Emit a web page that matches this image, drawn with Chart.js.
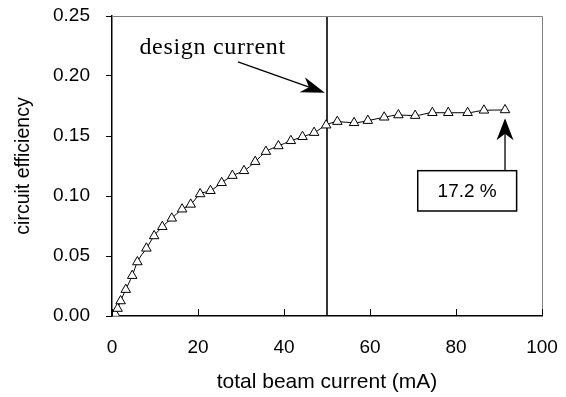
<!DOCTYPE html>
<html>
<head>
<meta charset="utf-8">
<script src="https://cdn.jsdelivr.net/npm/chart.js@4/dist/chart.umd.min.js"></script>
<style>
  html, body { margin: 0; padding: 0; background: #fff; }
  #wrap { width: 566px; height: 397px; }
</style>
</head>
<body>
<div id="wrap"><canvas id="chart" width="566" height="397"></canvas></div>
<script>
// Data
const beamCurrent = [0, 0.7, 1.3, 2.0, 3.2, 4.7, 5.9, 8.0, 9.8, 11.7, 13.9, 16.3, 18.3, 20.5, 22.9,
  25.5, 28.0, 30.7, 33.3, 35.8, 38.7, 41.6, 44.3, 47.0, 49.8, 52.4, 56.3, 59.5, 63.3, 66.6,
  70.5, 74.5, 78.2, 82.7, 86.5, 91.4];
const efficiency = [0, 0.002, 0.0062, 0.0125, 0.022, 0.0336, 0.045, 0.0564, 0.0667, 0.0744, 0.0814,
  0.089, 0.093, 0.1017, 0.1044, 0.111, 0.117, 0.121, 0.1286, 0.137, 0.1417, 0.146, 0.1494,
  0.1528, 0.159, 0.162, 0.161, 0.1628, 0.1656, 0.1675, 0.167, 0.1694, 0.1694, 0.1694, 0.1714, 0.1717];
const xTicks = [0, 20, 40, 60, 80, 100];
const yTicks = [0, 0.05, 0.10, 0.15, 0.20, 0.25];
const designCurrent = 50;
const designLabel = "design current";
const peakLabel = "17.2 %";

const SANS = "'Liberation Sans', Arial, sans-serif";
const SERIF = "'Liberation Serif', 'Times New Roman', serif";

function arrowHead(ctx, tx, ty, fx, fy, len, half) {
  // filled, notched arrow head pointing from (fx,fy) to (tx,ty)
  const dx = tx - fx, dy = ty - fy;
  const d = Math.hypot(dx, dy);
  const ux = dx / d, uy = dy / d;
  const nx = -uy, ny = ux;
  const bx = tx - ux * len, by = ty - uy * len;
  const mx = tx - ux * len * 0.7, my = ty - uy * len * 0.7;
  ctx.beginPath();
  ctx.moveTo(tx, ty);
  ctx.lineTo(bx + nx * half, by + ny * half);
  ctx.lineTo(mx, my);
  ctx.lineTo(bx - nx * half, by - ny * half);
  ctx.closePath();
  ctx.fill();
}

// frame, inner x ticks and annotations
const extras = {
  id: "extras",
  afterDraw(chart) {
    const { ctx, chartArea: a, scales: { x, y } } = chart;
    ctx.save();
    // top/right grey frame
    ctx.strokeStyle = "#808080";
    ctx.lineWidth = 1;
    ctx.beginPath();
    ctx.moveTo(a.left, a.top + 0.5);
    ctx.lineTo(a.right + 0.5, a.top + 0.5);
    ctx.lineTo(a.right + 0.5, a.bottom);
    ctx.stroke();

    // x ticks pointing up into the plot
    ctx.strokeStyle = "#000";
    ctx.lineWidth = 1;
    for (const v of xTicks) {
      const px = Math.round(x.getPixelForValue(v)) + 0.5;
      ctx.beginPath();
      ctx.moveTo(px, a.bottom);
      ctx.lineTo(px, a.bottom - 7);
      ctx.stroke();
    }

    // "design current" label + arrow
    ctx.fillStyle = "#000";
    ctx.font = "24px " + SERIF;
    ctx.letterSpacing = "0.7px";
    ctx.textAlign = "center";
    ctx.textBaseline = "middle";
    ctx.fillText(designLabel, x.getPixelForValue(23.4), y.getPixelForValue(0.2235));
    ctx.letterSpacing = "0px";
    const ax0 = x.getPixelForValue(29.3), ay0 = y.getPixelForValue(0.2117);
    const ax1 = x.getPixelForValue(49.5), ay1 = y.getPixelForValue(0.186);
    ctx.lineWidth = 1.3;
    ctx.beginPath();
    ctx.moveTo(ax0, ay0);
    ctx.lineTo(ax1 - (ax1 - ax0) * 0.1, ay1 - (ay1 - ay0) * 0.1);
    ctx.stroke();
    arrowHead(ctx, ax1, ay1, ax0, ay0, 24, 8);

    // 17.2 % box + arrow
    const bx0 = x.getPixelForValue(71.1), bx1 = x.getPixelForValue(94.1);
    const by0 = y.getPixelForValue(0.1211), by1 = y.getPixelForValue(0.0875);
    ctx.lineWidth = 1.5;
    ctx.strokeRect(bx0, by0, bx1 - bx0, by1 - by0);
    ctx.font = "19px " + SANS;
    ctx.fillText(peakLabel, (bx0 + bx1) / 2, (by0 + by1) / 2 + 1);
    const vx = x.getPixelForValue(91.4);
    const vt = y.getPixelForValue(0.1648);
    ctx.lineWidth = 1.3;
    ctx.beginPath();
    ctx.moveTo(vx, by0);
    ctx.lineTo(vx, vt + 15);
    ctx.stroke();
    arrowHead(ctx, vx, vt, vx, by0, 22, 8.5);
    ctx.restore();
  }
};

new Chart(document.getElementById("chart"), {
  type: "scatter",
  data: {
    datasets: [
      {
        label: "efficiency",
        data: beamCurrent.map((v, i) => ({ x: v, y: efficiency[i] })),
        showLine: true,
        borderColor: "#000",
        borderWidth: 1,
        tension: 0.4,
        cubicInterpolationMode: "monotone",
        pointStyle: "triangle",
        pointRadius: 5.5,
        pointBorderWidth: 1,
        pointBorderColor: "#000",
        pointBackgroundColor: "#fff"
      },
      {
        label: "design current",
        data: [{ x: designCurrent, y: yTicks[0] }, { x: designCurrent, y: yTicks[yTicks.length - 1] }],
        showLine: true,
        borderColor: "#000",
        borderWidth: 1.6,
        pointRadius: 0
      }
    ]
  },
  options: {
    responsive: false,
    animation: false,
    layout: { padding: 0 },
    plugins: {
      legend: { display: false },
      tooltip: { enabled: false }
    },
    scales: {
      x: {
        type: "linear",
        min: xTicks[0],
        max: xTicks[xTicks.length - 1],
        afterBuildTicks: s => { s.ticks = xTicks.map(v => ({ value: v })); },
        afterFit: s => { s.height = 81; s.paddingRight = 24; },
        grid: { display: false, drawTicks: false },
        border: { color: "#000", width: 1.5 },
        ticks: {
          padding: 20,
          color: "#000",
          font: { family: SANS, size: 19 },
          callback: v => String(v)
        },
        title: {
          display: true,
          text: "total beam current (mA)",
          color: "#000",
          font: { family: SANS, size: 21 },
          padding: { top: 0, bottom: 2 }
        }
      },
      y: {
        type: "linear",
        min: yTicks[0],
        max: yTicks[yTicks.length - 1],
        afterBuildTicks: s => { s.ticks = yTicks.map(v => ({ value: v })); },
        afterFit: s => { s.width = 112; s.paddingTop = 16; },
        grid: { drawOnChartArea: false, drawTicks: true, tickLength: 6, color: "#000", lineWidth: 1 },
        border: { color: "#000", width: 1.5 },
        ticks: {
          padding: 16,
          color: "#000",
          font: { family: SANS, size: 19 },
          callback: v => v.toFixed(2)
        },
        title: {
          display: true,
          text: "circuit efficiency",
          color: "#000",
          font: { family: SANS, size: 19.5 },
          padding: { top: 12, bottom: 0 }
        }
      }
    }
  },
  plugins: [extras]
});
</script>
</body>
</html>
